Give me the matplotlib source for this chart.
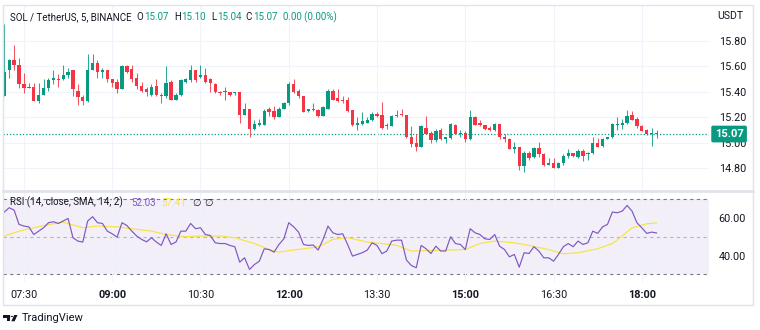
import matplotlib
matplotlib.use("Agg")
import matplotlib.pyplot as plt
from matplotlib.patches import Rectangle, Polygon, Circle
from matplotlib.lines import Line2D
from matplotlib.transforms import blended_transform_factory

# 5 minute candles, SOL/USDT, 07:10 .. 18:15
opens = [15.37, 15.57, 15.65, 15.61, 15.46, 15.43, 15.44, 15.33, 15.38, 15.43,
         15.49, 15.50, 15.50, 15.53, 15.57, 15.41, 15.36, 15.33, 15.57, 15.63,
         15.56, 15.57, 15.50, 15.48, 15.42, 15.60, 15.58, 15.51, 15.45, 15.42,
         15.38, 15.45, 15.38, 15.37, 15.48, 15.34, 15.38, 15.48, 15.49, 15.57,
         15.52, 15.53, 15.50, 15.46, 15.40, 15.40, 15.40, 15.39, 15.40, 15.22,
         15.27, 15.11, 15.14, 15.14, 15.27, 15.25, 15.20, 15.27, 15.31, 15.46,
         15.41, 15.37, 15.25, 15.27, 15.26, 15.21, 15.27, 15.41, 15.35, 15.34,
         15.34, 15.26, 15.14, 15.15, 15.16, 15.18, 15.23, 15.22, 15.13, 15.13,
         15.21, 15.23, 15.22, 15.05, 15.00, 14.97, 15.12, 15.08, 15.02, 15.10,
         15.03, 15.04, 15.14, 15.07, 15.08, 15.03, 15.20, 15.16, 15.14, 15.12,
         15.10, 15.15, 15.05, 15.03, 14.95, 14.97, 14.82, 14.92, 14.89, 14.96,
         14.91, 14.83, 14.84, 14.80, 14.84, 14.90, 14.92, 14.89, 14.94, 14.91,
         14.92, 15.00, 14.98, 15.03, 15.05, 15.14, 15.14, 15.16, 15.22, 15.19,
         15.13, 15.10, 15.07, 15.07]
highs = [15.93, 15.66, 15.77, 15.67, 15.55, 15.47, 15.47, 15.47, 15.50, 15.51,
         15.57, 15.54, 15.61, 15.59, 15.57, 15.46, 15.38, 15.70, 15.70, 15.65,
         15.59, 15.57, 15.50, 15.50, 15.61, 15.61, 15.61, 15.55, 15.48, 15.44,
         15.46, 15.50, 15.39, 15.60, 15.49, 15.39, 15.50, 15.51, 15.61, 15.57,
         15.61, 15.59, 15.51, 15.47, 15.41, 15.44, 15.40, 15.40, 15.40, 15.31,
         15.27, 15.18, 15.19, 15.27, 15.28, 15.29, 15.28, 15.32, 15.48, 15.50,
         15.42, 15.37, 15.27, 15.31, 15.27, 15.29, 15.42, 15.42, 15.42, 15.37,
         15.36, 15.26, 15.20, 15.24, 15.20, 15.24, 15.24, 15.32, 15.16, 15.22,
         15.26, 15.27, 15.22, 15.13, 15.07, 15.14, 15.21, 15.09, 15.11, 15.12,
         15.05, 15.16, 15.15, 15.10, 15.09, 15.26, 15.21, 15.18, 15.14, 15.13,
         15.16, 15.15, 15.07, 15.04, 15.01, 14.97, 14.94, 14.94, 14.97, 15.01,
         14.92, 14.88, 14.88, 14.85, 14.91, 14.95, 14.92, 14.95, 14.95, 14.93,
         15.05, 15.04, 15.04, 15.05, 15.16, 15.20, 15.19, 15.26, 15.25, 15.20,
         15.14, 15.11, 15.12, 15.10]
lows = [15.37, 15.51, 15.57, 15.43, 15.39, 15.43, 15.33, 15.31, 15.38, 15.41,
        15.46, 15.44, 15.49, 15.51, 15.37, 15.30, 15.30, 15.32, 15.57, 15.51,
        15.51, 15.48, 15.44, 15.39, 15.42, 15.55, 15.48, 15.42, 15.40, 15.37,
        15.37, 15.37, 15.31, 15.35, 15.34, 15.34, 15.37, 15.47, 15.48, 15.48,
        15.51, 15.47, 15.40, 15.39, 15.38, 15.34, 15.37, 15.38, 15.16, 15.22,
        15.05, 15.10, 15.13, 15.14, 15.21, 15.19, 15.20, 15.27, 15.30, 15.39,
        15.35, 15.24, 15.24, 15.25, 15.20, 15.21, 15.27, 15.34, 15.32, 15.31,
        15.24, 15.13, 15.10, 15.14, 15.16, 15.17, 15.20, 15.11, 15.11, 15.13,
        15.20, 15.21, 15.04, 14.97, 14.94, 14.97, 15.07, 15.00, 15.01, 15.02,
        15.00, 15.03, 15.07, 15.05, 15.01, 15.02, 15.14, 15.13, 15.10, 15.09,
        15.09, 15.03, 15.01, 14.95, 14.92, 14.79, 14.77, 14.87, 14.88, 14.89,
        14.82, 14.83, 14.80, 14.80, 14.83, 14.88, 14.89, 14.88, 14.86, 14.87,
        14.91, 14.97, 14.97, 15.03, 15.04, 15.10, 15.11, 15.15, 15.18, 15.12,
        15.09, 15.06, 14.98, 15.04]
closes = [15.56, 15.65, 15.61, 15.46, 15.43, 15.44, 15.33, 15.38, 15.43, 15.49,
          15.51, 15.49, 15.53, 15.56, 15.42, 15.36, 15.33, 15.57, 15.63, 15.56,
          15.57, 15.50, 15.47, 15.42, 15.60, 15.56, 15.50, 15.45, 15.41, 15.40,
          15.44, 15.38, 15.37, 15.47, 15.34, 15.38, 15.49, 15.50, 15.57, 15.49,
          15.53, 15.48, 15.47, 15.40, 15.39, 15.41, 15.38, 15.40, 15.22, 15.27,
          15.11, 15.15, 15.16, 15.25, 15.24, 15.20, 15.27, 15.31, 15.46, 15.40,
          15.37, 15.24, 15.27, 15.26, 15.21, 15.28, 15.41, 15.34, 15.33, 15.33,
          15.25, 15.14, 15.16, 15.17, 15.18, 15.23, 15.21, 15.12, 15.14, 15.21,
          15.22, 15.22, 15.05, 14.99, 14.97, 15.13, 15.07, 15.02, 15.09, 15.03,
          15.05, 15.15, 15.07, 15.08, 15.03, 15.20, 15.14, 15.14, 15.11, 15.10,
          15.15, 15.05, 15.03, 14.95, 14.97, 14.82, 14.92, 14.88, 14.96, 14.91,
          14.83, 14.84, 14.80, 14.84, 14.90, 14.92, 14.90, 14.94, 14.90, 14.92,
          15.00, 14.97, 15.03, 15.05, 15.15, 15.15, 15.16, 15.21, 15.18, 15.13,
          15.09, 15.07, 15.07, 15.07]

rsi = [63.2, 65.5, 64.2, 56.6, 55.7, 55.3, 51.2, 53.0, 54.8, 57.5,
       58.0, 57.1, 58.4, 59.8, 49.5, 47.7, 47.2, 58.4, 60.7, 57.5,
       57.1, 53.0, 51.6, 49.8, 57.5, 56.0, 53.0, 50.4, 48.6, 47.3,
       49.5, 47.2, 45.4, 51.6, 45.9, 47.2, 53.0, 53.0, 57.1, 54.3,
       54.8, 51.2, 50.7, 46.8, 46.4, 46.4, 45.4, 44.7, 36.5, 38.8,
       32.6, 35.2, 37.0, 43.6, 43.2, 41.8, 45.9, 48.9, 57.5, 55.3,
       52.5, 45.9, 45.4, 45.6, 42.9, 48.6, 55.7, 52.1, 51.2, 51.6,
       45.9, 39.7, 40.6, 41.5, 42.9, 46.8, 45.4, 41.0, 42.4, 47.7,
       48.2, 48.2, 37.6, 34.7, 33.5, 45.4, 43.6, 41.1, 45.0, 42.4,
       42.4, 50.0, 46.4, 45.9, 43.2, 54.3, 52.1, 51.2, 48.9, 48.6,
       51.2, 45.0, 43.2, 39.3, 40.6, 33.8, 41.5, 41.1, 44.7, 42.4,
       38.8, 38.8, 37.0, 40.6, 44.7, 46.4, 44.7, 47.7, 45.9, 46.8,
       53.0, 51.8, 55.3, 56.6, 63.2, 62.8, 63.7, 66.7, 63.7, 57.5,
       54.8, 51.8, 52.5, 52.03]

# RSI based moving average, read at a few candles
sma_idx = [0, 3, 6, 9, 12, 16, 19, 23, 26, 30, 33, 37, 40, 44, 47, 51, 54, 56, 58, 64,
           67, 70, 74, 77, 80, 83, 87, 90, 94, 97, 100, 104, 107, 111, 114, 117, 121,
           124, 126, 128, 131, 133]
sma_val = [50.4, 53.0, 54.8, 56.5, 57.8, 54.8, 55.7, 55.3, 54.3, 53.0, 51.2, 50.0, 50.4,
           50.4, 49.5, 46.4, 43.2, 41.8, 42.6, 44.6, 48.6, 49.5, 47.2, 46.4, 45.4, 42.4,
           42.7, 42.9, 43.2, 46.4, 47.7, 46.8, 45.4, 43.2, 40.9, 41.5, 43.6, 46.4, 50.4,
           54.8, 56.9, 57.41]

time_pos = [4, 22, 40, 58, 76, 94, 112, 130]
time_labels = ["07:30", "09:00", "10:30", "12:00", "13:30", "15:00", "16:30", "18:00"]
price_ticks = [14.8, 15.0, 15.2, 15.4, 15.6, 15.8]
rsi_ticks = [40, 60]
last_price = 15.07

UP = "#089981"
DOWN = "#f23645"
GRID = "#f0f3fa"
TXT = "#131722"
plt.rcParams["font.family"] = ["Roboto", "DejaVu Sans"]
FS = 7.3
HFS = 7.0  # header legend

W, H = 760, 330


def fx(x):
    return x / W


def fy(y):
    return 1 - y / H


fig = plt.figure(figsize=(7.6, 3.3), dpi=100)
fig.patch.set_facecolor("white")

ax = fig.add_axes([fx(3), fy(190), fx(706), 185 / H])
ax2 = fig.add_axes([fx(3), fy(282), fx(706), 91 / H], sharex=ax)

for a in (ax, ax2):
    for s in a.spines.values():
        s.set_visible(False)
    a.set_facecolor("none")

# price pane
n = len(closes)
x = list(range(n))
cols = [UP if closes[i] >= opens[i] else DOWN for i in x]
ax.vlines(x, lows, highs, colors=cols, lw=0.75, alpha=0.85, zorder=2)
bottoms = [min(opens[i], closes[i]) for i in x]
heights = [max(abs(closes[i] - opens[i]), 0.005) for i in x]
ax.bar(x, heights, bottom=bottoms, width=0.68, color=cols, lw=0, zorder=3)

ax.set_xlim(-0.27, 143.7)
ax.set_ylim(14.631, 16.082)
ax.set_yticks(price_ticks)
ax.set_yticklabels([f"{v:.2f}" for v in price_ticks])
ax.yaxis.tick_right()
ax.tick_params(axis="y", length=0, pad=7, labelsize=FS + 0.5, colors=TXT)
ax.tick_params(axis="x", length=0, labelbottom=False)
ax.set_xticks(time_pos)
ax.grid(True, color=GRID, lw=0.8, zorder=0)

ax.axhline(last_price, color=UP, lw=0.9, ls=(0, (1, 1.6)), zorder=1)
tr = blended_transform_factory(ax.transAxes, ax.transData)
ax.text(1.008, last_price, f"{last_price:.2f}", transform=tr, ha="left", va="center",
        color="white", fontsize=FS + 0.8, fontweight="bold", clip_on=False, zorder=5,
        bbox=dict(boxstyle="round,pad=0.3,rounding_size=0.15", fc=UP, ec="none"))

# rsi pane
ax2.axhspan(30, 70, color="#7e57c2", alpha=0.09, lw=0, zorder=0)
ax2.axhline(70, color="#787b86", lw=0.8, ls=(0, (3, 3)), zorder=1)
ax2.axhline(30, color="#787b86", lw=0.8, ls=(0, (3, 3)), zorder=1)
ax2.axhline(50, color="#787b86", lw=0.8, ls=(0, (3, 3)), alpha=0.5, zorder=1)
ax2.plot(x, rsi, color="#7e57c2", lw=0.85, zorder=3)
ax2.plot(sma_idx, sma_val, color="#f7e34a", lw=0.9, zorder=2)
ax2.set_ylim(25.9, 74.4)
ax2.set_yticks(rsi_ticks)
ax2.set_yticklabels([f"{v:.2f}" for v in rsi_ticks])
ax2.yaxis.tick_right()
ax2.tick_params(axis="y", length=0, pad=7, labelsize=FS + 0.5, colors=TXT)
ax2.set_xticks(time_pos)
ax2.set_xticklabels(time_labels)
ax2.tick_params(axis="x", length=0, pad=6, labelsize=FS + 0.5, colors=TXT)
for lab in ax2.get_xticklabels():
    if lab.get_text().endswith(":00"):
        lab.set_fontweight("bold")
ax2.grid(True, color=GRID, lw=0.8, zorder=0)

# frame and pane separator
fig.add_artist(Rectangle((fx(3), fy(305)), fx(750), 300 / H, fill=False,
                         ec="#e0e3eb", lw=1))
fig.add_artist(Line2D([fx(3), fx(753)], [fy(190.5), fy(190.5)], color="#e0e3eb", lw=2))

# legends
fig.text(fx(717), fy(16), "USDT", fontsize=FS + 0.3, color=TXT, va="center")
y0 = fy(17)
fig.text(fx(10), y0, "SOL / TetherUS, 5, BINANCE", fontsize=HFS, color=TXT, va="center")
for lbl, px, val, pv in [("O", 136, "15.07", 143.8), ("H", 174, "15.10", 181.6),
                         ("L", 211.5, "15.04", 217.4), ("C", 245.5, "15.07", 252.8)]:
    fig.text(fx(px), y0, lbl, fontsize=HFS, color=TXT, va="center")
    fig.text(fx(pv), y0, val, fontsize=HFS, color=UP, va="center")
fig.text(fx(283), y0, "0.00 (0.00%)", fontsize=HFS, color=UP, va="center")

y1 = fy(202.5)
fig.text(fx(10), y1, "RSI (14, close, SMA, 14, 2)", fontsize=HFS, color=TXT, va="center")
fig.text(fx(131), y1, f"{rsi[-1]:.2f}", fontsize=HFS, color="#7e57c2", va="center")
fig.text(fx(161), y1, f"{sma_val[-1]:.2f}", fontsize=HFS, color="#f7e34a", va="center")
fig.text(fx(192), y1, "\u2205", fontsize=HFS, color=TXT, va="center")
fig.text(fx(204), y1, "\u2205", fontsize=HFS, color=TXT, va="center")

# TradingView logo
def pts(lst):
    return [(fx(a), fy(b)) for a, b in lst]

fig.add_artist(Polygon(pts([(3.3, 315), (10, 315), (10, 321.3), (7.3, 321.3),
                            (7.3, 317.6), (3.3, 317.6)]), closed=True, fc=TXT, ec="none"))
fig.add_artist(Circle((fx(11.8), fy(316.4)), 1.3 / W, fc=TXT, ec="none"))
fig.add_artist(Polygon(pts([(14.2, 315), (17.5, 315), (14.6, 321.3), (11.3, 321.3)]),
                       closed=True, fc=TXT, ec="none"))
fig.text(fx(22), fy(318.3), "TradingView", fontsize=8, color=TXT, va="center")

fig.savefig("out.png", dpi=100)
